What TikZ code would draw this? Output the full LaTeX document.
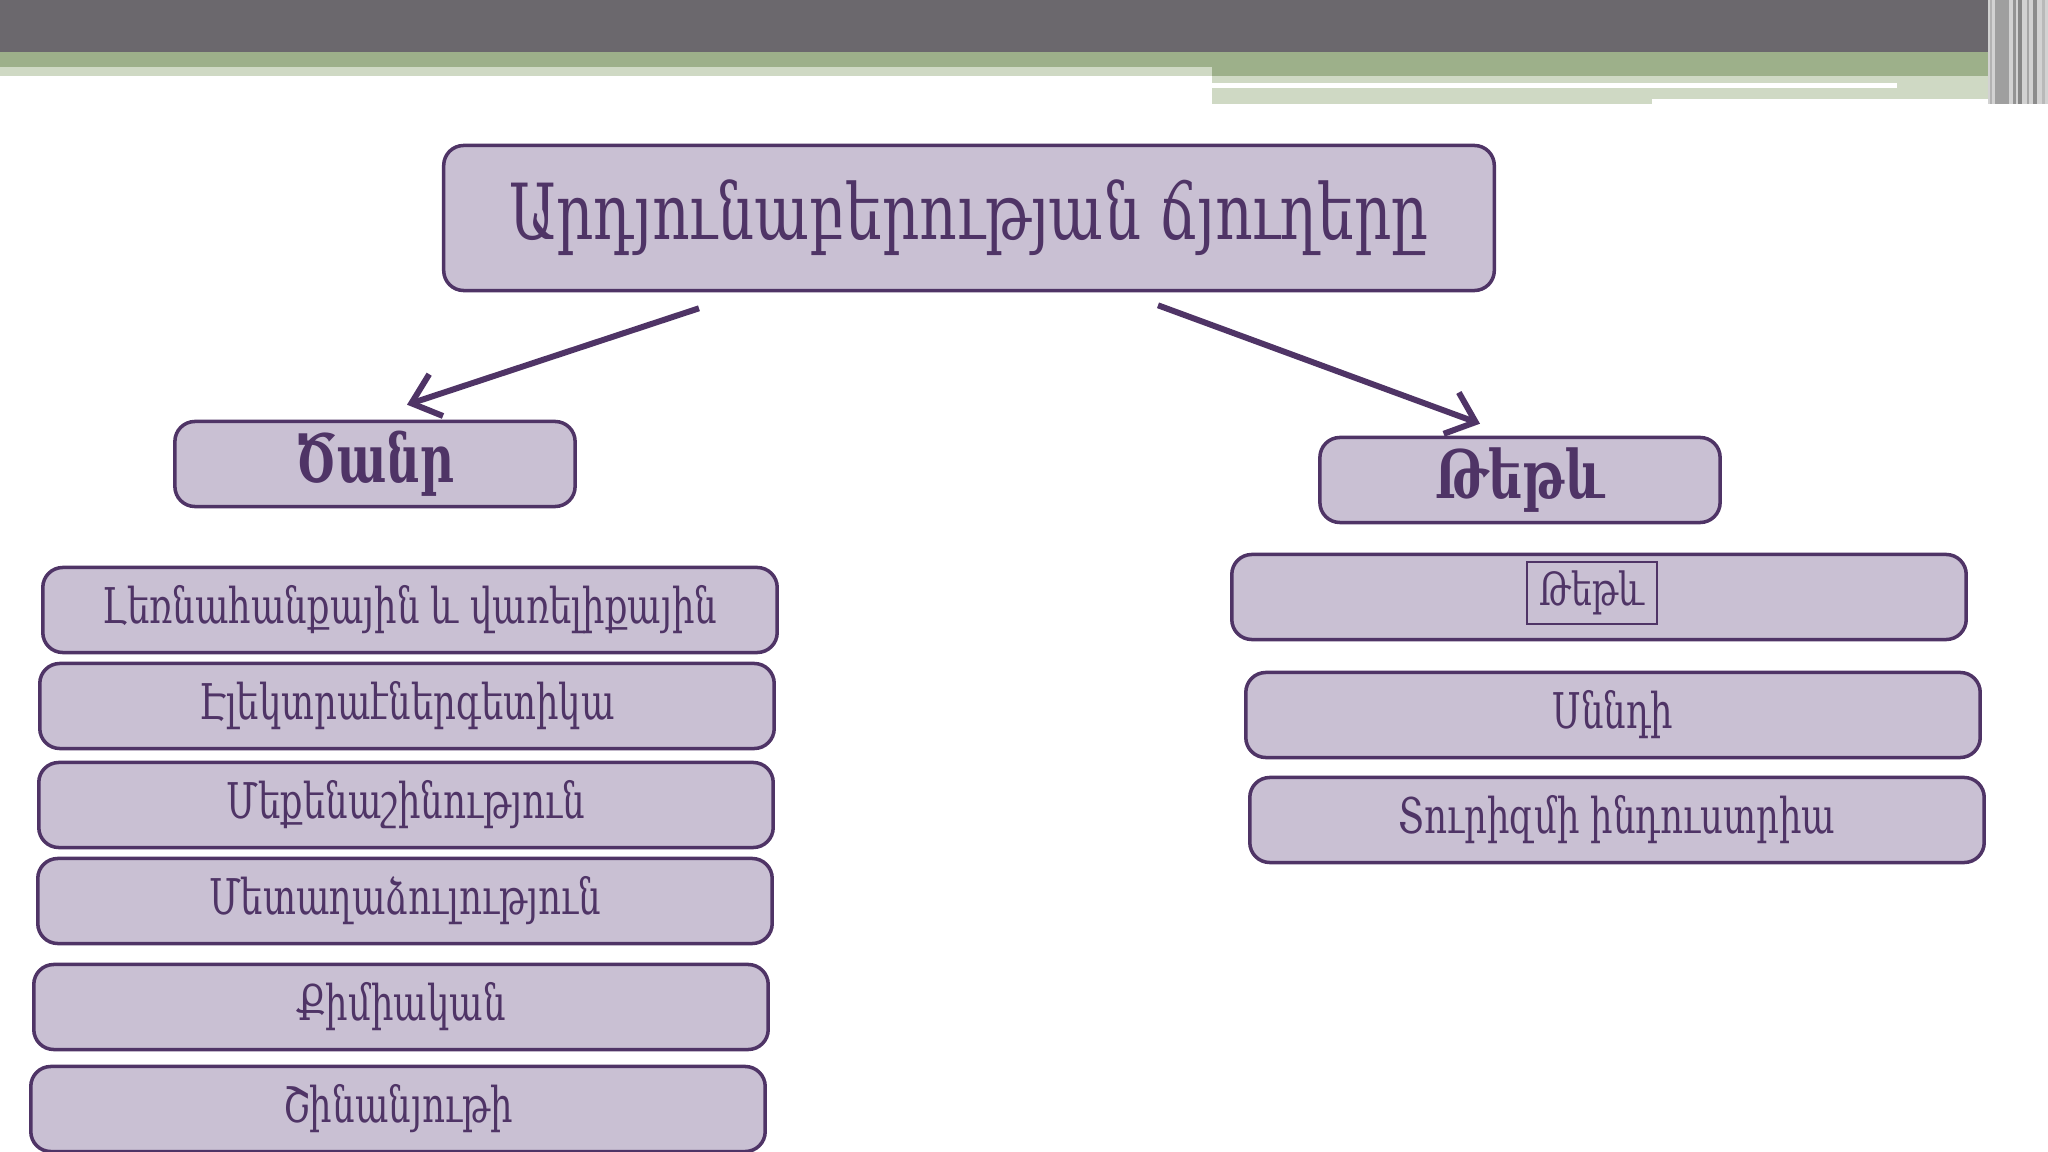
\documentclass[tikz,border=0pt]{standalone}
\usepackage{fontspec}
\setmainfont{DejaVu Serif}[FakeStretch=0.72]
\newfontfamily\titlefont{DejaVu Serif}[FakeStretch=0.75]
\newfontfamily\headfont{DejaVu Serif}[FakeStretch=0.7]
\usetikzlibrary{arrows.meta,positioning,calc}
\definecolor{barGray}{HTML}{6B686D}
\definecolor{barGreen}{HTML}{9DB08A}
\definecolor{barLight}{HTML}{CFD9C4}
\definecolor{boxFill}{HTML}{C9C0D3}
\definecolor{boxLine}{HTML}{4F3466}

\begin{document}
\begin{tikzpicture}[x=0.01cm, y=-0.01cm,
    catbox/.style={rectangle, rounded corners=2mm, draw=boxLine, line width=1pt, fill=boxFill,
        text=boxLine, align=center, inner sep=0pt},
    itembox/.style={catbox, minimum width=7.34cm, minimum height=0.85cm, font=\fontsize{14}{16}\selectfont},
    headbox/.style={catbox, minimum width=4cm, minimum height=0.85cm, font=\headfont\fontsize{19}{21}\selectfont\bfseries},
    link/.style={-{Straight Barb[length=2.6mm,width=4.4mm]}, line width=1.7pt, boxLine}
]
    \useasboundingbox (0,0) rectangle (2048,1152);

    % Top banner
    \fill[barGray] (0,0) rectangle (2048,52);
    \fill[barGreen] (0,52) rectangle (2048,67);
    \fill[barGreen] (1212,67) rectangle (2048,76);
    \fill[barLight] (0,67) rectangle (1212,76);
    \fill[barLight] (1212,76) rectangle (1990,104);
    \fill[white] (1212,83) rectangle (1897,88);
    \fill[white] (1652,99) rectangle (1990,104);
    \fill[gray!35] (1988,0) rectangle (2048,104);
    \foreach \sx/\sw/\sc in {1990/2/gray!60, 1995/14/gray!75, 2013/3/gray!85, 2018/4/gray!95, 2027/2/gray!70, 2033/4/gray!90, 2042/3/gray!55}
        \fill[\sc] (\sx,0) rectangle (\sx+\sw,104);

    % Title
    \node[catbox, minimum width=10.5cm, minimum height=1.45cm, font=\titlefont\fontsize{22}{25}\selectfont]
        (title) at (969,218) {Արդյունաբերության ճյուղերը};

    % Heavy industry
    \node[headbox] (heavy) at (375,464) {Ծանր};
    \node[itembox] (h1) at (410,610) {Լեռնահանքային և վառելիքային};
    \node[itembox] (h2) at (407,706) {Էլեկտրաէներգետիկա};
    \node[itembox] (h3) at (406,805) {Մեքենաշինություն};
    \node[itembox] (h4) at (405,901) {Մետաղաձուլություն};
    \node[itembox] (h5) at (401,1007) {Քիմիական};
    \node[itembox] (h6) at (398,1109) {Շինանյութի};

    % Light industry
    \node[headbox] (light) at (1520,480) {Թեթև};
    \node[itembox] (l1) at (1599,597) {};
    \node[draw=boxLine, line width=0.8pt, text=boxLine, minimum width=1.3cm, minimum height=0.62cm,
        inner sep=0pt, font=\fontsize{13}{15}\selectfont] (l1in) at (1592,593) {Թեթև};
    \node[itembox] (l2) at (1613,715) {Սննդի};
    \node[itembox] (l3) at (1617,820) {Տուրիզմի ինդուստրիա};

    % Arrows
    \draw[link] ($(title.south)+(-270,16)$) -- ($(heavy.north)+(32,-15)$);
    \draw[link] ($(title.south)+(189,13)$) -- ($(light.north)+(-40,-12)$);

\end{tikzpicture}
\end{document}
